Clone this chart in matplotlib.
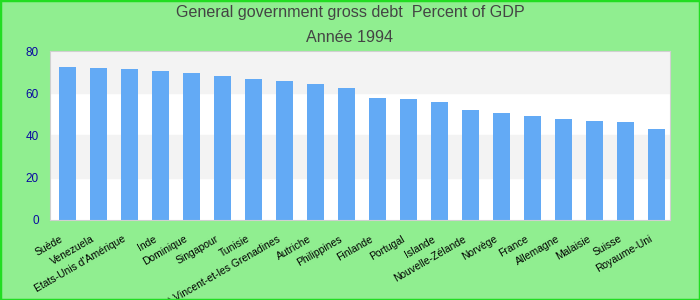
import matplotlib
matplotlib.use('Agg')
import matplotlib.pyplot as plt
import matplotlib.transforms as mtransforms
from matplotlib.patches import Rectangle

plt.rcParams['font.family'] = ['Liberation Sans', 'DejaVu Sans']

countries = ['Suède', 'Venezuela', "Etats-Unis d'Amérique", 'Inde', 'Dominique',
             'Singapour', 'Tunisie', 'Saint-Vincent-et-les Grenadines', 'Autriche',
             'Philippines', 'Finlande', 'Portugal', 'Islande', 'Nouvelle-Zélande',
             'Norvège', 'France', 'Allemagne', 'Malaisie', 'Suisse', 'Royaume-Uni']
debt = [72.5, 72.0, 71.6, 70.6, 69.7, 68.2, 66.8, 65.9, 64.5, 62.6,
        57.8, 57.3, 56.0, 52.1, 50.7, 49.3, 47.9, 46.9, 46.4, 43.1]
yticks = [0, 20, 40, 60, 80]

fig = plt.figure(figsize=(7, 3), dpi=100, facecolor='#90ee90')
fig.patches.append(Rectangle((0, 0), 1, 1, transform=fig.transFigure, fill=False,
                             edgecolor='#22dd22', linewidth=2.5))
ax = fig.add_axes([0.0714, 0.267, 0.886, 0.563])
ax.set_facecolor('white')

# alternating bands
for i in range(len(yticks) - 1):
    if i % 2 == 1:
        ax.axhspan(yticks[i], yticks[i + 1], color='#f3f3f3', zorder=0)

x = range(len(countries))
ax.bar(x, debt, width=0.55, color='#63aaf5', zorder=2)

ax.set_xlim(-0.55, len(countries) - 0.55)
ax.set_ylim(0, 80)
ax.set_yticks(yticks)
ax.tick_params(axis='y', length=0, labelcolor='#0a0aa0', labelsize=8.5, pad=8)
ax.set_xticks(list(x))
ax.set_xticklabels(countries, rotation=30, ha='right', rotation_mode='anchor', fontsize=7.5)
ax.tick_params(axis='x', length=0, pad=10)
shift = mtransforms.ScaledTranslation(-5 / 72, 0, fig.dpi_scale_trans)
for lab in ax.get_xticklabels():
    lab.set_transform(lab.get_transform() + shift)
for s in ax.spines.values():
    s.set_color('#d0d0d0')

fig.text(0.5, 0.957, 'General government gross debt  Percent of GDP', ha='center', va='center',
         fontsize=11.6, color='#444444')
fig.text(0.5, 0.875, 'Année 1994', ha='center', va='center', fontsize=11.6, color='#444444')

fig.savefig('out.png', dpi=100, facecolor=fig.get_facecolor())
